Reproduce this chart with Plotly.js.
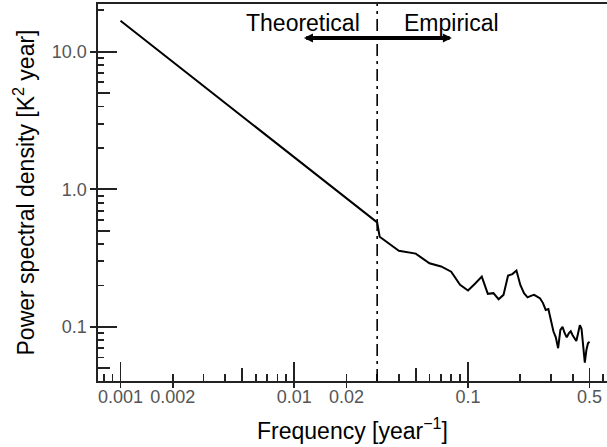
<!DOCTYPE html>
<html><head><meta charset="utf-8">
<script src="https://cdn.plot.ly/plotly-3.0.1.min.js"></script>
<style>html,body{margin:0;padding:0;background:#fff}</style>
</head><body><div id="chart" style="width:607px;height:447px"></div>
<script>
// ---- data ----
const theoFreq = [0.001, 0.03];
const theoPsd = [16.8, 0.575];
const empFreq = [0.031, 0.04, 0.05, 0.06, 0.07, 0.08, 0.09, 0.10, 0.11, 0.12,
  0.13, 0.14, 0.15, 0.16, 0.17, 0.18, 0.19, 0.20, 0.21, 0.22,
  0.23, 0.24, 0.25, 0.26, 0.27, 0.28, 0.29, 0.30, 0.31, 0.32,
  0.33, 0.34, 0.35, 0.36, 0.37, 0.38, 0.39, 0.40, 0.41, 0.42,
  0.43, 0.44, 0.45, 0.46, 0.47, 0.48, 0.49, 0.50];
const empPsd = [0.452, 0.358, 0.341, 0.290, 0.275, 0.252, 0.202, 0.184, 0.207, 0.232,
  0.174, 0.176, 0.159, 0.171, 0.236, 0.242, 0.257, 0.202, 0.176, 0.164,
  0.168, 0.171, 0.166, 0.161, 0.149, 0.133, 0.135, 0.109, 0.093, 0.084,
  0.070, 0.095, 0.100, 0.090, 0.084, 0.090, 0.093, 0.087, 0.083, 0.079,
  0.090, 0.103, 0.097, 0.074, 0.055, 0.068, 0.076, 0.078];
const boundaryFreq = 0.03;
const regionLabels = ['Theoretical', 'Empirical'];
const xTickVals = [0.001, 0.002, 0.01, 0.02, 0.1, 0.5];
const xTickText = ['0.001', '0.002', '0.01', '0.02', '0.1', '0.5'];
const xMajorTicks = [0.001, 0.01, 0.1];
const xMidTicks = [0.005, 0.05, 0.5];
const xSmallTicks = [0.0008, 0.0009, 0.002, 0.003, 0.004, 0.006, 0.007, 0.008, 0.009,
  0.02, 0.03, 0.04, 0.06, 0.07, 0.08, 0.09, 0.2, 0.3, 0.4, 0.6];
const yTickVals = [0.1, 1, 10];
const yTickText = ['0.1', '1.0', '10.0'];
const yMajorTicks = [0.1, 1, 10];
const yMidTicks = [0.05, 0.5, 5];
const ySmallTicks = [0.06, 0.07, 0.08, 0.09, 0.2, 0.3, 0.4, 0.6, 0.7, 0.8, 0.9,
  2, 3, 4, 6, 7, 8, 9, 20];
const xTitle = 'Frequency [year<sup>−1</sup>]';
const yTitle = 'Power spectral density [K<sup>2</sup> year]';

// ---- chart ----
const FONT = 'Liberation Sans, Arial, Helvetica, sans-serif';
const AX = '#222';
const xRange = [-3.1295, -0.2002];
const yRange = [-1.393, 1.3467];

const freq = theoFreq.concat(empFreq);
const psd = theoPsd.concat(empPsd);

const traces = [
  {x: freq, y: psd, type: 'scatter', mode: 'lines',
   line: {color: '#000', width: 2}, xaxis: 'x', yaxis: 'y', hoverinfo: 'skip'},
  {x: [], y: [], type: 'scatter', mode: 'lines', xaxis: 'x2', yaxis: 'y2', showlegend: false},
  {x: [], y: [], type: 'scatter', mode: 'lines', xaxis: 'x3', yaxis: 'y3', showlegend: false}
];

function xAxisBase(extra) {
  return Object.assign({type: 'log', range: xRange, showgrid: false, zeroline: false,
    tickcolor: AX, tickwidth: 1.8, fixedrange: true}, extra);
}
function yAxisBase(extra) {
  return Object.assign({type: 'log', range: yRange, showgrid: false, zeroline: false,
    tickcolor: AX, tickwidth: 1.8, fixedrange: true}, extra);
}

const lb = Math.log10(boundaryFreq);
const arrowHalf = 0.43;
const layout = {
  width: 607, height: 447,
  margin: {l: 98, r: 0, t: 4, b: 66},
  paper_bgcolor: '#fff', plot_bgcolor: '#fff',
  showlegend: false,
  font: {family: FONT, color: '#000'},
  xaxis: xAxisBase({
    showline: true, linecolor: AX, linewidth: 1.6, mirror: true,
    tickmode: 'array', tickvals: xTickVals, ticktext: xTickText,
    ticks: 'outside', ticklen: 5, ticklabelstandoff: -6,
    tickfont: {size: 18, color: '#555', family: FONT},
    title: {text: xTitle, font: {size: 23, color: '#000', family: FONT}, standoff: 16}
  }),
  xaxis2: xAxisBase({
    overlaying: 'x', anchor: 'y', side: 'bottom', showline: false,
    tickmode: 'array', tickvals: xMajorTicks, ticks: 'inside', ticklen: 19,
    showticklabels: false,
    minor: {tickmode: 'array', tickvals: xSmallTicks, ticks: 'inside', ticklen: 7,
            tickcolor: AX, tickwidth: 1.8, showgrid: false}
  }),
  xaxis3: xAxisBase({
    overlaying: 'x', anchor: 'y', side: 'bottom', showline: false,
    tickmode: 'array', tickvals: xMidTicks, ticks: 'inside', ticklen: 13,
    showticklabels: false
  }),
  yaxis: yAxisBase({
    showline: true, linecolor: AX, linewidth: 1.6,
    tickmode: 'array', tickvals: yTickVals, ticktext: yTickText,
    ticks: 'outside', ticklen: 6,
    tickfont: {size: 18, color: '#555', family: FONT},
    title: {text: yTitle, font: {size: 23, color: '#000', family: FONT}, standoff: 11}
  }),
  yaxis2: yAxisBase({
    overlaying: 'y', anchor: 'x', side: 'left', showline: false,
    tickmode: 'array', tickvals: yMajorTicks, ticks: 'inside', ticklen: 19,
    showticklabels: false,
    minor: {tickmode: 'array', tickvals: ySmallTicks, ticks: 'inside', ticklen: 6,
            tickcolor: AX, tickwidth: 1.8, showgrid: false}
  }),
  yaxis3: yAxisBase({
    overlaying: 'y', anchor: 'x', side: 'left', showline: false,
    tickmode: 'array', tickvals: yMidTicks, ticks: 'inside', ticklen: 12,
    showticklabels: false
  }),
  shapes: [
    {type: 'line', xref: 'x', yref: 'paper', x0: boundaryFreq, x1: boundaryFreq, y0: 0, y1: 1,
     line: {color: '#000', width: 1.6, dash: '12px,5px,3px,5px'}}
  ],
  annotations: [
    {xref: 'x', yref: 'y', axref: 'x', ayref: 'y',
     x: lb + arrowHalf, y: 1.0996, ax: lb - arrowHalf, ay: 1.0996,
     text: '', showarrow: true, arrowhead: 2, arrowside: 'end+start',
     arrowsize: 0.45, arrowwidth: 4, arrowcolor: '#000', standoff: 0, startstandoff: 0},
    {xref: 'x', yref: 'y', x: lb, y: 1.212, text: regionLabels[0], showarrow: false,
     xanchor: 'right', yanchor: 'middle', xshift: -15,
     font: {size: 23, color: '#000', family: FONT}},
    {xref: 'x', yref: 'y', x: lb, y: 1.212, text: regionLabels[1], showarrow: false,
     xanchor: 'left', yanchor: 'middle', xshift: 25,
     font: {size: 23, color: '#000', family: FONT}}
  ]
};

Plotly.newPlot('chart', traces, layout, {staticPlot: true, displayModeBar: false});
</script></body></html>
